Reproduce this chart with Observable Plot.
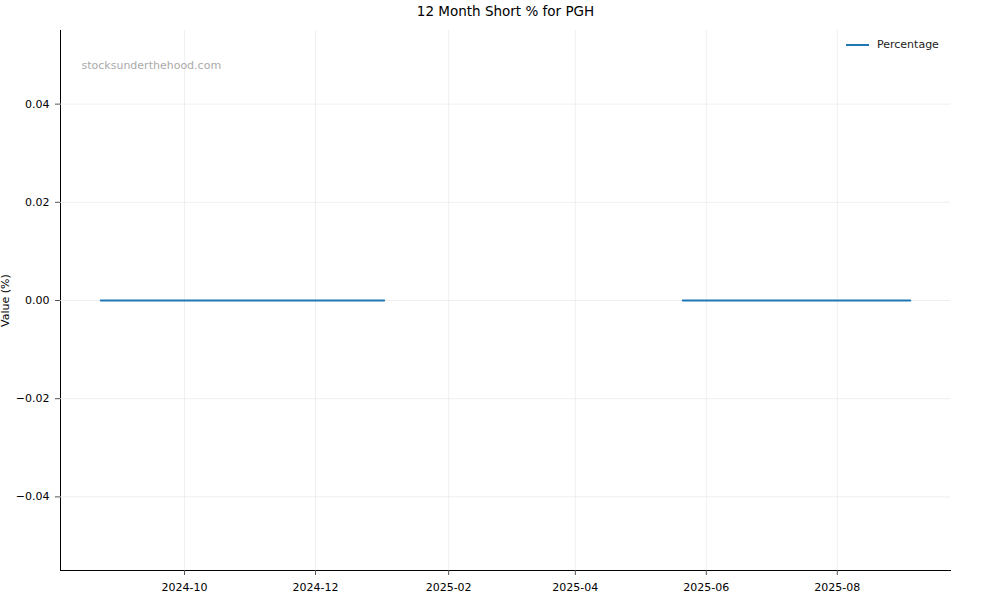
<!DOCTYPE html>
<html>
<head>
<meta charset="utf-8">
<script src="https://cdn.jsdelivr.net/npm/d3@7"></script>
<script src="https://cdn.jsdelivr.net/npm/@observablehq/plot@0.6"></script>
<style>
  html, body { margin: 0; padding: 0; background: #fff; }
  #wrap { position: relative; width: 1000px; height: 600px; font-family: "DejaVu Sans", sans-serif; overflow: hidden; }
  #legend { position: absolute; left: 846px; top: 38px; display: flex; align-items: center; font-size: 11px; color: #222; }
  #legend .sw { width: 23px; height: 2px; background: #1f77b4; margin-right: 8px; }
  #wrap svg g[aria-label*="axis"] path, #wrap svg g[aria-label*="axis"] line { stroke: #555; }
</style>
</head>
<body>
<div id="wrap"></div>
<script>
const title = "12 Month Short % for PGH";
const watermark = "stocksunderthehood.com";
const seriesName = "Percentage";
const yLabel = "Value (%)";

const dates = [
  "2024-08-23","2024-09-06","2024-09-20","2024-10-04","2024-10-18","2024-11-01",
  "2024-11-15","2024-11-29","2024-12-13","2024-12-27","2025-01-02",
  "2025-01-17","2025-02-14","2025-03-14","2025-04-11","2025-05-09",
  "2025-05-21","2025-06-04","2025-06-18","2025-07-02","2025-07-16","2025-07-30",
  "2025-08-13","2025-08-27","2025-09-04"
];
const values = [
  0,0,0,0,0,0,
  0,0,0,0,0,
  null,null,null,null,null,
  0,0,0,0,0,0,
  0,0,0
];
const xTicks = ["2024-10-01","2024-12-01","2025-02-01","2025-04-01","2025-06-01","2025-08-01"];
const yTicks = [-0.04, -0.02, 0, 0.02, 0.04];
const xDomain = ["2024-08-04T06:00", "2025-09-22T17:00"];
const yDomain = [-0.055, 0.055];

const data = dates.map((d, i) => ({date: new Date(d), value: values[i]}));
const xTickDates = xTicks.map(d => new Date(d));
const fmtY = v => d3.format(".2f")(v).replace("-", "\u2212");

const chart = Plot.plot({
  width: 1000,
  height: 600,
  marginLeft: 60,
  marginRight: 50,
  marginTop: 30,
  marginBottom: 30,
  style: {fontFamily: "DejaVu Sans, sans-serif", fontSize: "11px", color: "#000", background: "#fff"},
  x: {type: "time", domain: xDomain.map(d => new Date(d)), ticks: xTickDates, tickFormat: d3.utcFormat("%Y-%m"), tickSize: 5, tickPadding: 8, line: true, label: null},
  y: {domain: yDomain, ticks: yTicks, tickFormat: fmtY, tickSize: 5, tickPadding: 6, line: true, label: yLabel, labelAnchor: "center", labelOffset: 59, labelArrow: "none"},
  marks: [
    Plot.ruleX(xTickDates, {stroke: "#ebebeb", strokeWidth: 0.8}),
    Plot.ruleY(yTicks, {stroke: "#ebebeb", strokeWidth: 0.8}),
    Plot.line(data, {x: "date", y: "value", stroke: "#1f77b4", strokeWidth: 2, defined: d => d.value != null}),
    Plot.text([title], {frameAnchor: "top", dy: -19, lineAnchor: "middle", fontSize: 13.5, fill: "#000"}),
    Plot.text([watermark], {frameAnchor: "top-left", dx: 21, dy: 35, textAnchor: "start", lineAnchor: "middle", fontSize: 11, fill: "#aaaaaa"})
  ]
});
const wrap = document.getElementById("wrap");
wrap.appendChild(chart);
const legend = document.createElement("div");
legend.id = "legend";
legend.innerHTML = '<span class="sw"></span><span></span>';
legend.lastChild.textContent = seriesName;
wrap.appendChild(legend);
</script>
</body>
</html>
